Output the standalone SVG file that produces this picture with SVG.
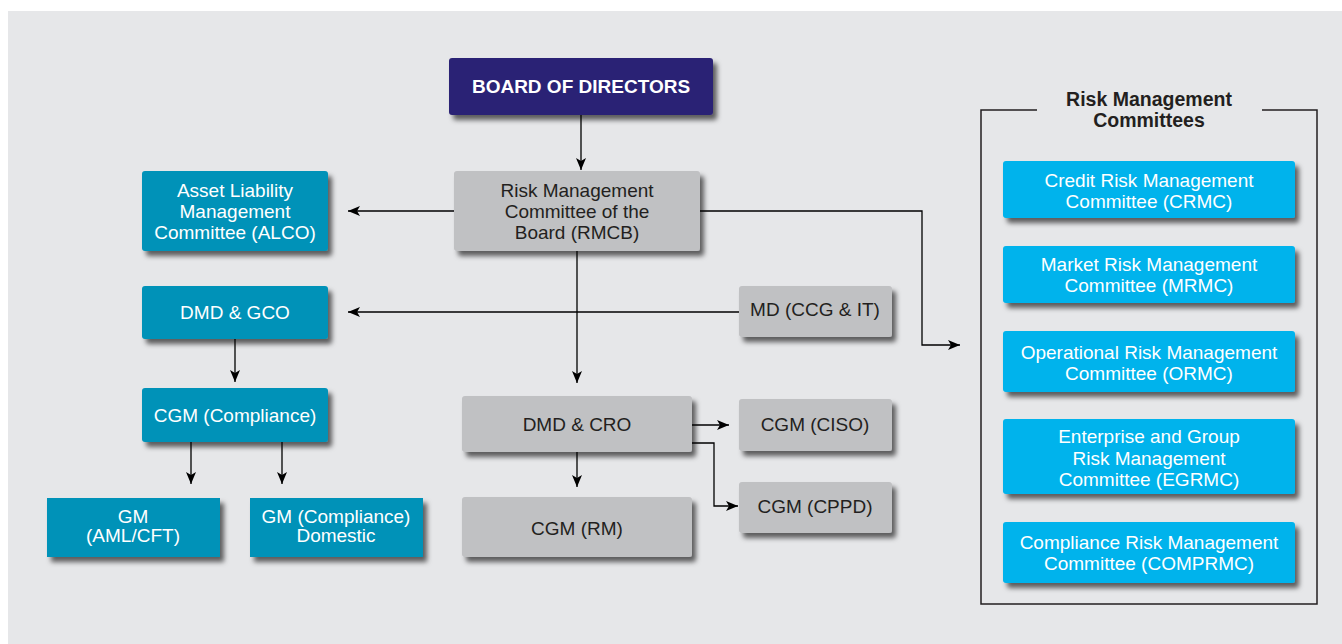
<svg xmlns="http://www.w3.org/2000/svg" width="1342" height="644" viewBox="0 0 1342 644">
<defs>
<filter id="sh" x="-10%" y="-10%" width="130%" height="140%">
<feDropShadow dx="4" dy="5" stdDeviation="2.5" flood-color="#000" flood-opacity="0.6"/>
</filter>
<marker id="ah" viewBox="0 0 12 10" refX="12" refY="5" markerWidth="12" markerHeight="10" markerUnits="userSpaceOnUse" orient="auto">
<path d="M0,0 L12,5 L0,10 L3,5 Z" fill="#000"/>
</marker>
<style>
.t{font-family:"Liberation Sans",Arial,sans-serif;font-size:19px;text-anchor:middle}
.w{fill:#fff}
.k{fill:#231f20}
.b{font-weight:bold}
.tb{font-size:19.5px}
.navy{fill:#2b2374}
.teal{fill:#0092b8}
.cyan{fill:#00b3ec}
.gray{fill:#c0c1c3}
.ln{fill:none;stroke:#000;stroke-width:1.3}
</style>
</defs>
<rect x="0" y="0" width="1342" height="644" fill="#fff"/>
<rect x="8" y="11" width="1334" height="633" fill="#e6e7e9"/>

<g id="connectors">
<line class="ln" x1="581" y1="115" x2="581" y2="170" marker-end="url(#ah)"/>
<line class="ln" x1="454" y1="211" x2="348" y2="211" marker-end="url(#ah)"/>
<polyline class="ln" points="700,211 922,211 922,345 960,345" marker-end="url(#ah)"/>
<line class="ln" x1="739" y1="312" x2="348" y2="312" marker-end="url(#ah)"/>
<line class="ln" x1="577" y1="250" x2="577" y2="383" marker-end="url(#ah)"/>
<line class="ln" x1="235" y1="339" x2="235" y2="382" marker-end="url(#ah)"/>
<line class="ln" x1="191" y1="442" x2="191" y2="484" marker-end="url(#ah)"/>
<line class="ln" x1="282" y1="442" x2="282" y2="484" marker-end="url(#ah)"/>
<line class="ln" x1="577" y1="452" x2="577" y2="487" marker-end="url(#ah)"/>
<line class="ln" x1="692" y1="425" x2="729" y2="425" marker-end="url(#ah)"/>
<polyline class="ln" points="692,443 714,443 714,506 738,506" marker-end="url(#ah)"/>
</g>

<g id="board">
<rect class="navy" x="449" y="58" width="264" height="57" rx="3" filter="url(#sh)"/>
<text class="t w b" x="581" y="93">BOARD OF DIRECTORS</text>
</g>
<g id="rmcb">
<rect class="gray" x="454" y="171" width="246" height="80" rx="3" filter="url(#sh)"/>
<text class="t k" x="577" y="197">Risk Management</text>
<text class="t k" x="577" y="218">Committee of the</text>
<text class="t k" x="577" y="239">Board (RMCB)</text>
</g>
<g id="alco">
<rect class="teal" x="142" y="171" width="186" height="80" rx="3" filter="url(#sh)"/>
<text class="t w" x="235" y="197">Asset Liability</text>
<text class="t w" x="235" y="218">Management</text>
<text class="t w" x="235" y="239">Committee (ALCO)</text>
</g>
<g id="dmd-gco">
<rect class="teal" x="142" y="286" width="186" height="53" rx="3" filter="url(#sh)"/>
<text class="t w" x="235" y="319">DMD &amp; GCO</text>
</g>
<g id="md-ccg-it">
<rect class="gray" x="739" y="286" width="153" height="51" rx="3" filter="url(#sh)"/>
<text class="t k" x="815" y="316">MD (CCG &amp; IT)</text>
</g>
<g id="cgm-compliance">
<rect class="teal" x="142" y="388" width="186" height="54" rx="3" filter="url(#sh)"/>
<text class="t w" x="235" y="422">CGM (Compliance)</text>
</g>
<g id="gm-aml">
<rect class="teal" x="47" y="498" width="173" height="59" filter="url(#sh)"/>
<text class="t w" x="133" y="523">GM</text>
<text class="t w" x="133" y="542">(AML/CFT)</text>
</g>
<g id="gm-domestic">
<rect class="teal" x="250" y="498" width="173" height="59" filter="url(#sh)"/>
<text class="t w" x="336" y="523">GM (Compliance)</text>
<text class="t w" x="336" y="542">Domestic</text>
</g>
<g id="dmd-cro">
<rect class="gray" x="462" y="396" width="230" height="56" rx="3" filter="url(#sh)"/>
<text class="t k" x="577" y="431">DMD &amp; CRO</text>
</g>
<g id="cgm-rm">
<rect class="gray" x="462" y="497" width="230" height="60" rx="3" filter="url(#sh)"/>
<text class="t k" x="577" y="535">CGM (RM)</text>
</g>
<g id="cgm-ciso">
<rect class="gray" x="739" y="399" width="153" height="52" rx="3" filter="url(#sh)"/>
<text class="t k" x="815" y="431">CGM (CISO)</text>
</g>
<g id="cgm-cppd">
<rect class="gray" x="739" y="482" width="153" height="51" rx="3" filter="url(#sh)"/>
<text class="t k" x="815" y="513">CGM (CPPD)</text>
</g>

<g id="rmc-panel">
<polyline fill="none" stroke="#231f20" stroke-width="1.5" points="1037,110 981,110 981,604 1317,604 1317,110 1262,110"/>
<text class="t k b tb" x="1149" y="106">Risk Management</text>
<text class="t k b tb" x="1149" y="127">Committees</text>
</g>
<g id="crmc">
<rect class="cyan" x="1003" y="161" width="292" height="57" rx="3" filter="url(#sh)"/>
<text class="t w" x="1149" y="187">Credit Risk Management</text>
<text class="t w" x="1149" y="208">Committee (CRMC)</text>
</g>
<g id="mrmc">
<rect class="cyan" x="1003" y="246" width="292" height="57" rx="3" filter="url(#sh)"/>
<text class="t w" x="1149" y="271">Market Risk Management</text>
<text class="t w" x="1149" y="292">Committee (MRMC)</text>
</g>
<g id="ormc">
<rect class="cyan" x="1003" y="331" width="292" height="61" rx="3" filter="url(#sh)"/>
<text class="t w" x="1149" y="359">Operational Risk Management</text>
<text class="t w" x="1149" y="380">Committee (ORMC)</text>
</g>
<g id="egrmc">
<rect class="cyan" x="1003" y="419" width="292" height="75" rx="3" filter="url(#sh)"/>
<text class="t w" x="1149" y="443">Enterprise and Group</text>
<text class="t w" x="1149" y="465">Risk Management</text>
<text class="t w" x="1149" y="486">Committee (EGRMC)</text>
</g>
<g id="comprmc">
<rect class="cyan" x="1003" y="522" width="292" height="61" rx="3" filter="url(#sh)"/>
<text class="t w" x="1149" y="549">Compliance Risk Management</text>
<text class="t w" x="1149" y="570">Committee (COMPRMC)</text>
</g>
</svg>
